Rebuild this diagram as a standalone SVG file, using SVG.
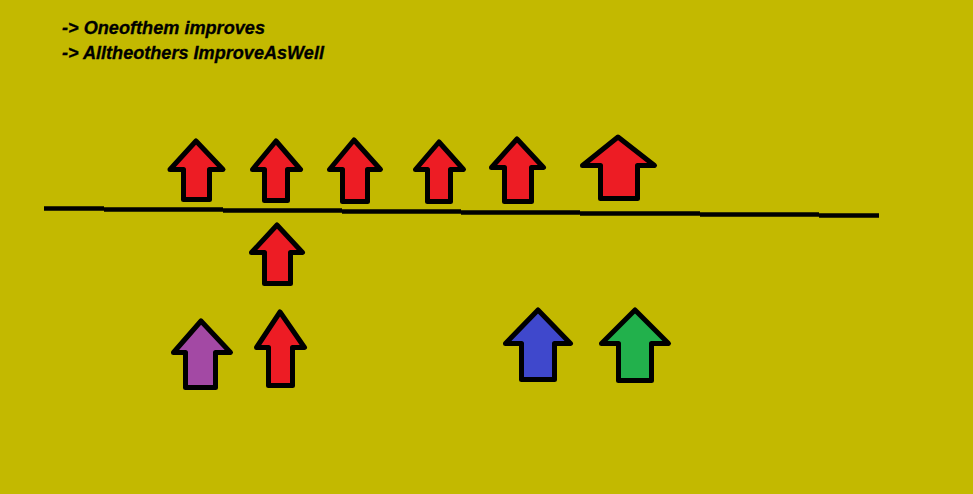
<svg xmlns="http://www.w3.org/2000/svg" width="973" height="494" viewBox="0 0 973 494">
<style>
.bg{fill:#C3B900}
.arrow{stroke:#000;stroke-width:5;stroke-linejoin:round}
.red{fill:#ED1C24}
.purple{fill:#A349A4}
.blue{fill:#3F48CC}
.green{fill:#22B14C}
.line{fill:none;stroke:#000;stroke-width:4.5;stroke-linecap:butt}
.label{font-family:"Liberation Sans",Arial,sans-serif;font-weight:bold;font-style:italic;font-size:18px;fill:#000;stroke:#000;stroke-width:0.3}
</style>
<rect class="bg" x="0" y="0" width="973" height="494"/>
<g id="labels">
<text class="label" x="62" y="34" textLength="203" lengthAdjust="spacingAndGlyphs">-&gt; Oneofthem improves</text>
<text class="label" x="62" y="59" textLength="262" lengthAdjust="spacingAndGlyphs">-&gt; Alltheothers ImproveAsWell</text>
</g>
<g id="connectors">
<path class="line" d="M44 208.5 L104 208.5 M104 209.5 L223 209.5 M223 210.5 L342 210.5 M342 211.5 L461 211.5 M461 212.5 L580 212.5 M580 213.5 L700 213.5 M700 214.5 L819 214.5 M819 215.5 L879 215.5"/>
</g>
<g id="arrow1"><polygon class="arrow red" points="196,141 223,169.5 209.5,169.5 209.5,199.5 183.5,199.5 183.5,169.5 170,169.5"/></g>
<g id="arrow2"><polygon class="arrow red" points="276,141 300.5,169.5 287.5,169.5 287.5,200.5 264.5,200.5 264.5,169.5 252.5,169.5"/></g>
<g id="arrow3"><polygon class="arrow red" points="354,140 380.5,169.5 367.5,169.5 367.5,201.5 342.5,201.5 342.5,169.5 329.5,169.5"/></g>
<g id="arrow4"><polygon class="arrow red" points="439,142 463.5,169.5 450.5,169.5 450.5,201.5 427.5,201.5 427.5,169.5 415.5,169.5"/></g>
<g id="arrow5"><polygon class="arrow red" points="517,139 543.5,167.5 531.5,167.5 531.5,201.5 504.5,201.5 504.5,167.5 491.5,167.5"/></g>
<g id="arrow6"><polygon class="arrow red" points="618,137 654.5,165.5 637.5,165.5 637.5,198.5 600.5,198.5 600.5,165.5 582.5,165.5"/></g>
<g id="arrow7"><polygon class="arrow red" points="277,225 302.5,252.5 290.5,252.5 290.5,283.5 264.5,283.5 264.5,252.5 251.5,252.5"/></g>
<g id="arrow-purple"><polygon class="arrow purple" points="201,321 230.5,352.5 215.5,352.5 215.5,387.5 185.5,387.5 185.5,352.5 173.5,352.5"/></g>
<g id="arrow8"><polygon class="arrow red" points="280,312 304.5,347.5 292.5,347.5 292.5,385.5 268.5,385.5 268.5,347.5 256.5,347.5"/></g>
<g id="arrow-blue"><polygon class="arrow blue" points="538,310 570.5,343.5 554.5,343.5 554.5,379.5 521.5,379.5 521.5,343.5 505.5,343.5"/></g>
<g id="arrow-green"><polygon class="arrow green" points="635,310 668.5,343.5 651.5,343.5 651.5,380.5 618.5,380.5 618.5,343.5 601.5,343.5"/></g>
</svg>
